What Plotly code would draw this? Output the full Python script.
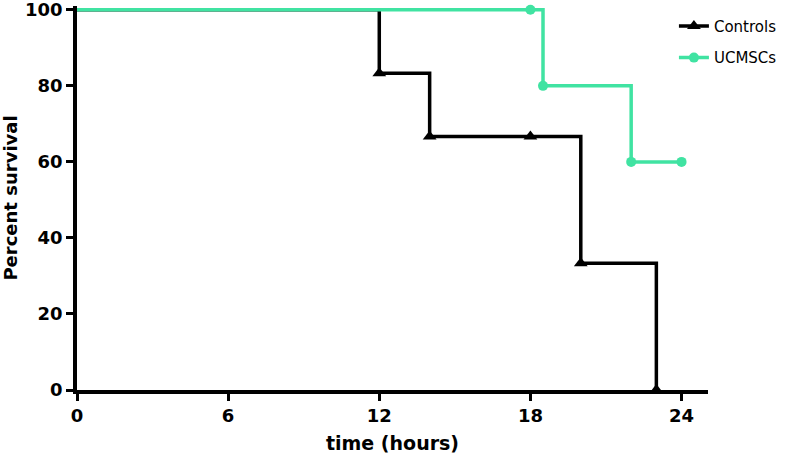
import plotly.graph_objects as go

ctrl_time = [0, 12, 14, 18, 20, 23]
ctrl_surv = [100, 83.33, 66.67, 66.67, 33.33, 0]
ctrl_marker = [False, True, True, True, True, True]

uc_time = [0, 18, 18.5, 22, 24]
uc_surv = [100, 100, 80, 60, 60]
uc_marker = [False, True, True, True, True]

x_ticks = [0, 6, 12, 18, 24]
y_ticks = [0, 20, 40, 60, 80, 100]

BLACK = "#000000"
GREEN = "#40E3A2"
FONT = "DejaVu Sans, Liberation Sans, Arial, sans-serif"

fig = go.Figure()

def add_series(t, s, flags, name, color, symbol, msize):
    fig.add_trace(go.Scatter(
        x=t, y=s, mode="lines", line=dict(color=color, width=3.5, shape="hv"),
        showlegend=False, legendgroup=name, cliponaxis=False, hoverinfo="skip"))
    mx = [a for a, f in zip(t, flags) if f]
    my = [b for b, f in zip(s, flags) if f]
    fig.add_trace(go.Scatter(
        x=mx, y=my, mode="markers", name=name, legendgroup=name, showlegend=False,
        marker=dict(symbol=symbol, size=msize, color=color),
        cliponaxis=False))
    fig.add_trace(go.Scatter(
        x=[None], y=[None], mode="lines+markers", name=name, legendgroup=name,
        line=dict(color=color, width=3.5),
        marker=dict(symbol=symbol, size=msize, color=color)))

add_series(ctrl_time, ctrl_surv, ctrl_marker, "Controls", BLACK, "triangle-up", 12)
add_series(uc_time, uc_surv, uc_marker, "UCMSCs", GREEN, "circle", 10)

fig.update_layout(
    width=787, height=460,
    margin=dict(l=77, r=79, t=6, b=70, autoexpand=False),
    paper_bgcolor="white", plot_bgcolor="white",
    font=dict(family=FONT, color="black"),
    legend=dict(x=0.946, y=0.99, xanchor="left", yanchor="top",
                font=dict(size=15, family=FONT), tracegroupgap=9,
                bgcolor="rgba(0,0,0,0)"),
    showlegend=True,
)
fig.update_xaxes(
    range=[0, 25.05], tickvals=x_ticks, ticktext=[str(v) for v in x_ticks],
    showgrid=False, zeroline=False, showline=True, linecolor="black", linewidth=3.5,
    ticks="outside", ticklen=7, tickwidth=3, tickcolor="black", automargin=False,
    ticklabeloverflow="allow",
    tickfont=dict(size=18, family=FONT, weight="bold"),
    title=dict(text="<b>time (hours)</b>", font=dict(size=19, family=FONT), standoff=12),
)
fig.update_yaxes(
    range=[0, 101], tickvals=y_ticks, ticktext=[str(v) for v in y_ticks],
    showgrid=False, zeroline=False, showline=True, linecolor="black", linewidth=3.5,
    ticks="outside", ticklen=7, tickwidth=3, tickcolor="black", automargin=False,
    ticklabeloverflow="allow",
    tickfont=dict(size=18, family=FONT, weight="bold"),
    title=dict(text="<b>Percent survival</b>", font=dict(size=18, family=FONT), standoff=21),
)

fig.write_html(
    "out.html",
    config={"displayModeBar": False},
    post_script="document.body.style.margin='0';document.body.style.overflow='hidden';",
)
